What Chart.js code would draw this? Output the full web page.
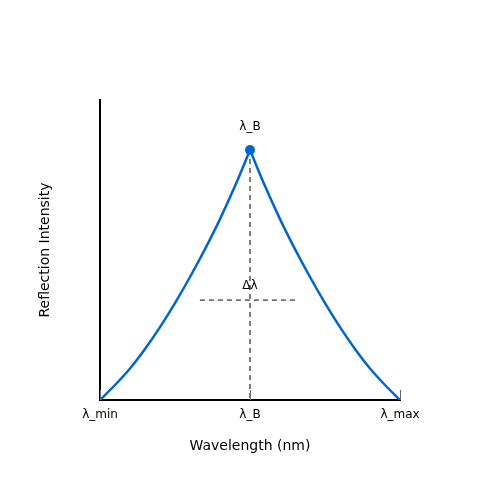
<!DOCTYPE html>
<html>
<head>
<meta charset="utf-8">
<script src="https://cdn.jsdelivr.net/npm/chart.js@4.4.4/dist/chart.umd.min.js"></script>
<style>
  html, body { margin: 0; padding: 0; background: #fff; }
  #wrap { width: 500px; height: 500px; }
</style>
</head>
<body>
<div id="wrap"><canvas id="c" width="500" height="500"></canvas></div>
<script>
// values (x: wavelength 0..100, y: intensity 0..100)
const leftX = [0, 5, 10, 15, 20, 25, 30, 35, 40, 45, 50];
const leftY = [0, 5, 10.5, 17, 24.3, 32.3, 41, 50.3, 60.3, 71.3, 83.3];
const rightX = [50, 55, 60, 65, 70, 75, 80, 85, 90, 95, 100];
const rightY = [83.3, 71.3, 60.3, 50.3, 41, 32.3, 24.3, 17, 10.5, 5, 0];
const peak = { x: 50, y: 83.3 };
const widthLine = { x1: 33.3, x2: 65.5, y: 33.3 };
const tickValues = [0, 50, 100];
const tickLabels = ['λ_min', 'λ_B', 'λ_max'];

const FONT = "'DejaVu Sans', sans-serif";
const BLUE = '#0066cc';
const DASH = '#707070';

const pts = (xs, ys) => xs.map((x, i) => ({ x, y: ys[i] }));

// inward tick marks + text labels on the peak / width line
const extras = {
  id: 'extras',
  afterDatasetsDraw(chart) {
    const { ctx, scales: { x, y } } = chart;
    ctx.save();
    ctx.strokeStyle = '#666';
    ctx.lineWidth = 1;
    const y0 = y.getPixelForValue(0);
    tickValues.forEach(v => {
      const px = Math.round(x.getPixelForValue(v)) + 0.5;
      ctx.beginPath();
      ctx.moveTo(px, y0);
      ctx.lineTo(px, y0 - 10);
      ctx.stroke();
    });
    ctx.fillStyle = '#000';
    ctx.font = '12px ' + FONT;
    ctx.textAlign = 'center';
    ctx.textBaseline = 'middle';
    ctx.fillText('λ_B', x.getPixelForValue(peak.x), y.getPixelForValue(peak.y) - 23);
    ctx.fillText('Δλ', x.getPixelForValue(peak.x), y.getPixelForValue(widthLine.y) - 14);
    ctx.restore();
  }
};

new Chart(document.getElementById('c'), {
  type: 'line',
  data: {
    datasets: [
      {
        data: [{ x: peak.x, y: peak.y }, { x: peak.x, y: 0 }],
        borderColor: DASH, borderWidth: 1.8, borderDash: [5, 4],
        pointRadius: 0, order: 3
      },
      {
        data: [{ x: widthLine.x1, y: widthLine.y }, { x: widthLine.x2, y: widthLine.y }],
        borderColor: DASH, borderWidth: 1.8, borderDash: [5, 4],
        pointRadius: 0, order: 3
      },
      {
        data: pts(leftX, leftY),
        borderColor: BLUE, borderWidth: 2.5,
        cubicInterpolationMode: 'monotone', pointRadius: 0, order: 2
      },
      {
        data: pts(rightX, rightY),
        borderColor: BLUE, borderWidth: 2.5,
        cubicInterpolationMode: 'monotone', pointRadius: 0, order: 2
      },
      {
        data: [peak],
        showLine: false, pointRadius: 5,
        pointBackgroundColor: BLUE, pointBorderColor: BLUE, pointBorderWidth: 0, order: 1
      }
    ]
  },
  options: {
    responsive: false,
    animation: false,
    events: [],
    layout: { padding: { top: 100, right: 100, left: 0, bottom: 0 } },
    plugins: { legend: { display: false }, tooltip: { enabled: false } },
    scales: {
      x: {
        type: 'linear', min: 0, max: 100,
        afterBuildTicks: s => { s.ticks = tickValues.map(v => ({ value: v })); },
        afterFit: s => { s.height = 100; },
        grid: { display: false, drawTicks: false },
        border: { display: true, color: '#000', width: 2 },
        ticks: {
          color: '#000', font: { family: FONT, size: 12 }, padding: 8,
          maxRotation: 0, autoSkip: false,
          callback: v => tickLabels[tickValues.indexOf(v)]
        },
        title: {
          display: true, text: 'Wavelength (nm)', color: '#000',
          font: { family: FONT, size: 14 }, padding: { top: 0, bottom: 45 }
        }
      },
      y: {
        type: 'linear', min: 0, max: 100,
        afterFit: s => { s.width = 100; },
        grid: { display: false, drawTicks: false },
        border: { display: true, color: '#000', width: 2 },
        ticks: { display: false },
        title: {
          display: true, text: 'Reflection Intensity', color: '#000',
          font: { family: FONT, size: 14 }, padding: { top: 37, bottom: 0 }
        }
      }
    }
  },
  plugins: [extras]
});
</script>
</body>
</html>
